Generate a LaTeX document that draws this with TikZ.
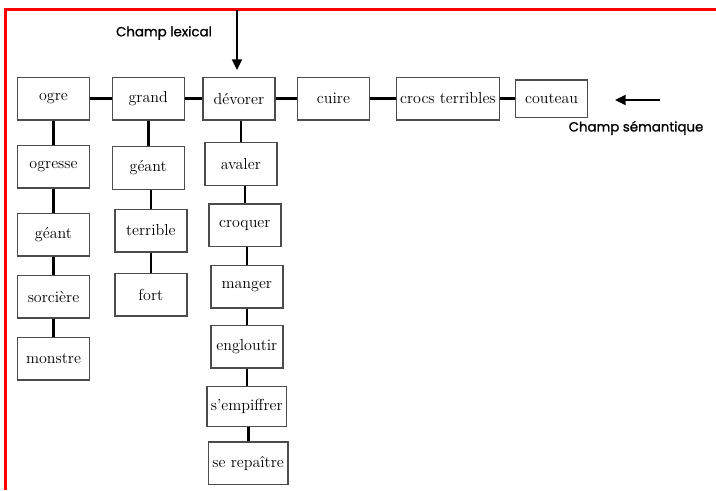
\documentclass[tikz,border=0pt]{standalone}
\usepackage{fontspec}
\newfontfamily\labelfont[FakeBold=1]{Poppins}
\usetikzlibrary{positioning}
\usetikzlibrary{arrows.meta}

\tikzset{
    word/.style={rectangle, draw=black!70, line width=1pt, minimum width=54pt, minimum height=32pt, inner sep=3pt, font=\fontsize{12}{14}\selectfont},
    link/.style={line width=2pt},
    field/.style={font=\labelfont\fontsize{10}{12}\selectfont},
    pointer/.style={line width=1.5pt, -{Triangle[length=8pt, width=7.5pt]}},
}

\begin{document}
\begin{tikzpicture}[x=0.75pt, y=-0.75pt]
    \useasboundingbox (0,0) rectangle (716,490);
    \fill [white] (0,0) rectangle (716,490);
    \draw [red, line width=2.2pt] (5.5,490) -- (5.5,9.5) -- (716,9.5);

    % top row
    \node [word] (ogre) at (53.5, 98.5) {ogre};
    \node [word, right=16pt of ogre] (grand) {grand};
    \node [word, right=13pt of grand] (devorer) {dévorer};
    \node [word, right=16pt of devorer] (cuire) {cuire};
    \node [word, right=19pt of cuire] (crocs) {crocs terribles};
    \node [word, right=11pt of crocs, minimum height=28pt] (couteau) {couteau};

    % first column
    \node [word, below=18pt of ogre] (ogresse) {ogresse};
    \node [word, below=18pt of ogresse] (geant) {géant};
    \node [word, below=13.5pt of geant] (sorciere) {sorcière};
    \node [word, below=13.5pt of sorciere] (monstre) {monstre};

    % second column
    \node [word, below=19pt of grand] (geantb) {géant};
    \node [word, below=14pt of geantb, xshift=2pt] (terrible) {terrible};
    \node [word, below=15pt of terrible] (fort) {fort};

    % third column
    \node [word, below=16pt of devorer, xshift=1.5pt] (avaler) {avaler};
    \node [word, below=13pt of avaler, xshift=3pt] (croquer) {croquer};
    \node [word, below=13pt of croquer, xshift=1.5pt] (manger) {manger};
    \node [word, below=12pt of manger] (engloutir) {engloutir};
    \node [word, below=13pt of engloutir, minimum height=30pt] (empiffrer) {s'empiffrer};
    \node [word, below=10.5pt of empiffrer, xshift=1pt] (repaitre) {se repaître};

    \draw [link] (ogre) -- (grand);
    \draw [link] (grand) -- (devorer);
    \draw [link] (devorer) -- (cuire);
    \draw [link] (cuire) -- (crocs);
    \draw [link] (crocs) -- (couteau);

    \draw [link] (ogre) -- (ogresse);
    \draw [link] (ogresse) -- (geant);
    \draw [link] (geant) -- (sorciere);
    \draw [link] (sorciere) -- (monstre);

    \draw [link] (grand) -- (geantb);
    \draw [link] (terrible.north) -- (terrible.north |- geantb.south);
    \draw [link] (terrible) -- (fort);

    \draw [link] (avaler.north) -- (avaler.north |- devorer.south);
    \draw [link] (croquer.north) -- (croquer.north |- avaler.south);
    \draw [link] (manger.north) -- (manger.north |- croquer.south);
    \draw [link] (engloutir.north) -- (engloutir.north |- manger.south);
    \draw [link] (engloutir) -- (empiffrer);
    \draw [link] (repaitre.north) -- (repaitre.north |- empiffrer.south);

    % field labels
    \node [field] (lexical) at (164, 33) {Champ lexical};
    \node [field] (semantique) at (636, 128) {Champ sémantique};
    \coordinate (lexstart) at (237, 9.5);
    \coordinate (lexend) at (237, 70);
    \coordinate (semstart) at (660, 100);
    \coordinate (semend) at (615, 100);
    \draw [pointer] (lexstart) -- (lexend);
    \draw [pointer] (semstart) -- (semend);
\end{tikzpicture}
\end{document}
